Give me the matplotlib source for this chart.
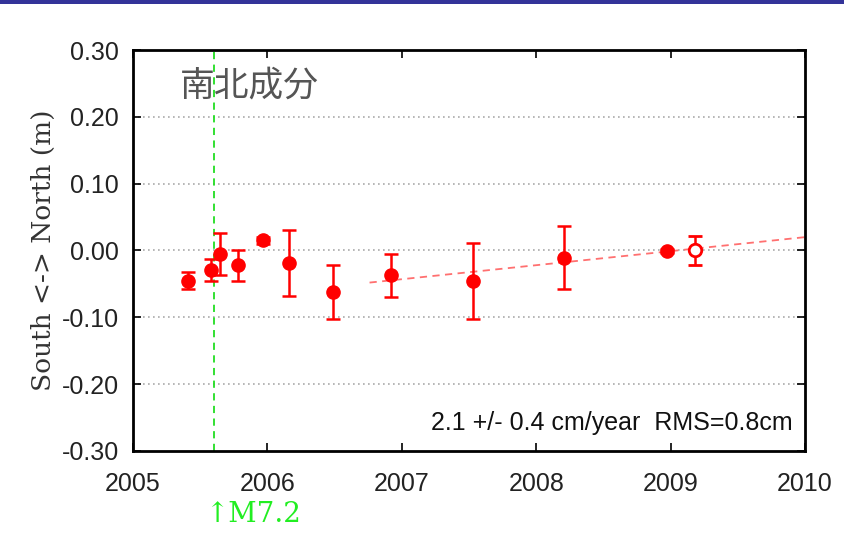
import matplotlib
matplotlib.use("Agg")
import matplotlib.pyplot as plt
from matplotlib.patches import Rectangle

# Site displacement, north-south component (m)
years = [2005.41, 2005.58, 2005.65, 2005.78, 2005.97, 2006.16, 2006.49,
         2006.92, 2007.53, 2008.21, 2008.97]
north = [-0.045, -0.029, -0.005, -0.022, 0.015, -0.019, -0.062,
         -0.037, -0.046, -0.011, -0.001]
north_err = [0.013, 0.017, 0.031, 0.023, 0.005, 0.049, 0.041,
             0.032, 0.057, 0.047, 0.003]

# Latest, provisional solution (open marker)
prov_year = [2009.18]
prov_north = [0.000]
prov_err = [0.022]

# Linear trend after the event
trend_years = [2006.76, 2010.0]
trend_north = [-0.048, 0.020]

quake_year = 2005.60
yticks = [-0.30, -0.20, -0.10, 0.00, 0.10, 0.20, 0.30]
xticks = [2005, 2006, 2007, 2008, 2009, 2010]

fig = plt.figure(figsize=(8.45, 5.55), dpi=100)
fig.patch.set_facecolor("white")
# banner strip along the top edge
fig.add_artist(Rectangle((0, 1 - 4 / 555), 1, 4 / 555, transform=fig.transFigure,
                         facecolor="#333399", edgecolor="none"))

ax = fig.add_axes([0.1574, 0.1874, 0.7953, 0.7225])
ax.set_xlim(2005, 2010)
ax.set_ylim(-0.30, 0.30)

for y in yticks[1:-1]:
    ax.axhline(y, color="#aaaaaa", lw=1.2, ls=(0, (1, 2)), zorder=1)

ax.axvline(quake_year, color="#22dd22", lw=1.3, ls=(0, (4, 3)), zorder=2)

ax.plot(trend_years, trend_north, color="#ff7070", lw=1.3, ls=(0, (4, 3)), zorder=2)

ax.errorbar(years, north, yerr=north_err, fmt="o", color="red", ms=9.5,
            capsize=5, elinewidth=1.8, capthick=1.8, zorder=3)
ax.errorbar(prov_year, prov_north, yerr=prov_err, fmt="o", color="red", ms=9,
            mfc="white", mec="red", mew=2.0, capsize=5, elinewidth=1.8,
            capthick=1.8, zorder=3)

ax.set_xticks(xticks)
ax.set_xticklabels([str(x) for x in xticks])
ax.set_yticks(yticks)
ax.set_yticklabels([f"{y:.2f}" for y in yticks])
ax.tick_params(direction="in", length=6, width=1.2, top=True, right=True,
               labelsize=18, colors="black")
ax.tick_params(axis="x", pad=15)
ax.tick_params(axis="y", pad=10)
for lab in ax.get_xticklabels() + ax.get_yticklabels():
    lab.set_family("Liberation Sans")
    lab.set_color("#222222")
for sp in ax.spines.values():
    sp.set_linewidth(2.0)

ax.set_ylabel("South <-> North (m)", family="DejaVu Serif", fontsize=19,
              color="#333333", labelpad=4)

ax.text(0.07, 0.955, "南北成分", transform=ax.transAxes, fontsize=25,
        family=["Noto Sans CJK JP", "DejaVu Sans"], color="#555555",
        va="top", ha="left")
ax.text(0.982, 0.04, "2.1 +/- 0.4 cm/year  RMS=0.8cm", transform=ax.transAxes,
        fontsize=18, family="Liberation Sans", ha="right", va="bottom",
        color="#111111")

ax.annotate("↑M7.2", xy=(quake_year, 0), xycoords=("data", "axes fraction"),
            xytext=(-6, -36), textcoords="offset points", fontsize=20,
            family="DejaVu Serif", color="#22ee22", ha="left", va="top",
            annotation_clip=False)

fig.savefig("out.png", dpi=100)
